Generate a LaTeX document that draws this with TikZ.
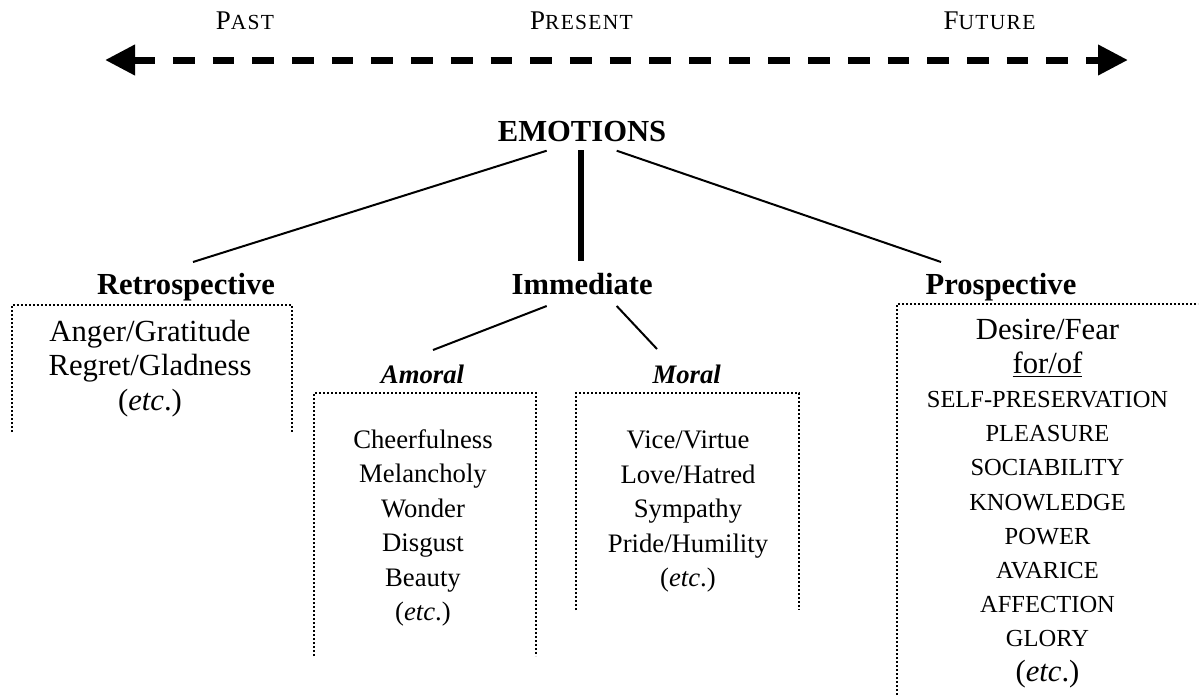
\documentclass[tikz,border=0pt]{standalone}
\usepackage{fontspec}
\setmainfont{Liberation Serif}
\newfontfamily\timefont[LetterSpace=6]{Liberation Serif}
\usetikzlibrary{arrows.meta,calc}

% faked small capitals for the time labels
\newcommand\timelabel[2]{{\fontsize{27}{27}\selectfont #1}{\fontsize{21.5}{21.5}\selectfont #2}}
% capitals used for the objects of desire and fear
\newcommand\motive[1]{{\fontsize{24.5}{34.2}\selectfont #1}}
% thin underline close to the baseline
\newcommand\underscored[1]{\setbox0\hbox{#1}\rlap{\rule[-4.1pt]{\wd0}{1.4pt}}\box0}

\tikzset{bigtip/.tip={Triangle[length=30pt,width=29pt]}}

\begin{document}
\begin{tikzpicture}[x=1pt,y=-1pt,
  every node/.style={inner sep=0pt, anchor=base},
  timeword/.style={font=\timefont},
  heading/.style={font=\fontsize{30.6}{34}\selectfont\bfseries},
  subheading/.style={font=\fontsize{26.7}{34}\selectfont\bfseries\itshape},
  biglist/.style={align=center, font=\fontsize{30.7}{34.2}\selectfont},
  smalllist/.style={align=center, font=\fontsize{26.7}{34.5}\selectfont},
  branch/.style={line width=2pt},
  trunk/.style={line width=5.7pt},
  group/.style={line width=1.8pt, dash pattern=on 1.9pt off 2.1pt},
  timeline/.style={line width=7pt, dash pattern=on 21.7pt off 18pt, bigtip-bigtip}
]
\useasboundingbox (0,0) rectangle (1199,697);

% time axis
\node[timeword] (past) at (245,29) {\timelabel{P}{AST}};
\node[timeword] (present) at (581.5,29) {\timelabel{P}{RESENT}};
\node[timeword] (future) at (989.5,29) {\timelabel{F}{UTURE}};
\coordinate (pastend) at (105,60);
\coordinate (futureend) at (1128,60);
\draw[timeline] (pastend) -- (futureend);

% headings
\node[heading] (emo) at (582,141.7) {EMOTIONS};
\node[heading] (retro) at (186,294) {Retrospective};
\node[heading] (imm) at (582.2,294.3) {Immediate};
\node[heading] (prosp) at (1001,294) {Prospective};
\node[subheading] (amoral) at (422.5,383.3) {Amoral};
\node[subheading] (moral) at (686.7,383) {Moral};

% tree
\draw[branch] ($(emo.base)+(-35.3,9)$) -- ($(retro.base)+(7,-32)$);
\draw[branch] ($(emo.base)+(34.7,9)$) -- ($(prosp.base)+(-60,-32)$);
\draw[trunk] ($(emo.base)+(-1,8.3)$) -- ($(imm.base)+(-1.2,-33.6)$);
\draw[branch] ($(imm.base)+(-35.5,11.7)$) -- ($(amoral.base)+(10.5,-33.3)$);
\draw[branch] ($(imm.base)+(34.5,11.7)$) -- ($(moral.base)+(-29.7,-34)$);

% lists (each node sits on the baseline of its last line)
\node[biglist] (retrolist) at (150,410)
  {Anger/Gratitude\\Regret/Gladness\\(\textit{etc}.)};
\node[smalllist] (amorallist) at (423,620.8)
  {Cheerfulness\\Melancholy\\Wonder\\Disgust\\Beauty\\(\textit{etc}.)};
\node[smalllist] (morallist) at (688,586.5)
  {Vice/Virtue\\Love/Hatred\\Sympathy\\Pride/Humility\\(\textit{etc}.)};
\node[biglist] (prosplist) at (1047.5,681)
  {Desire/Fear\\\underscored{for/of}\\\motive{SELF-PRESERVATION}\\\motive{PLEASURE}\\
   \motive{SOCIABILITY}\\\motive{KNOWLEDGE}\\\motive{POWER}\\\motive{AVARICE}\\
   \motive{AFFECTION}\\\motive{GLORY}\\(\textit{etc}.)};

% dotted group frames, open at the bottom
\draw[group] (12,432) |- (292,305) -- (292,432);
\draw[group] (314,656) |- (536,393) -- (536,656);
\draw[group] (576,610) |- (799,393) -- (799,610);
\draw[group] (897,695) |- (1198,304);
\end{tikzpicture}
\end{document}
